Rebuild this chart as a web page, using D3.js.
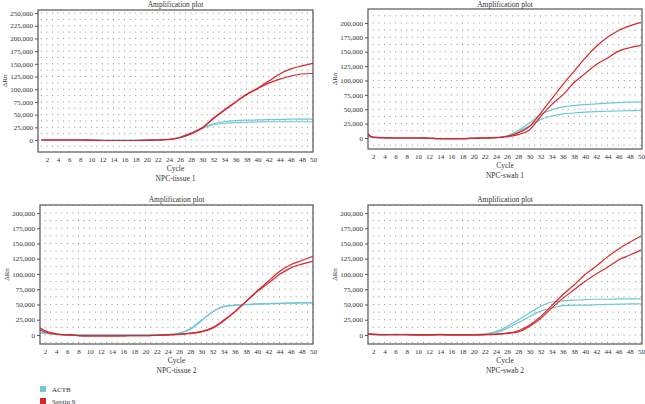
<!DOCTYPE html>
<html><head><meta charset="utf-8">
<script src="https://cdn.jsdelivr.net/npm/d3@7"></script>
<style>
body{margin:0;background:#fff;}
text{font-family:"Liberation Serif","DejaVu Serif",serif;fill:#333;}
</style></head>
<body><svg id="c" width="645" height="404"></svg>
<script>
const cycles = [1,2,4,6,8,10,12,14,16,18,20,22,24,26,28,30,32,34,36,38,40,42,44,46,48,50];
const xTicks = d3.range(2,51,2);
const seriesNames = ["ACTB","Septin 9"];
const panelTitles = ["NPC-tissue 1","NPC-swab 1","NPC-tissue 2","NPC-swab 2"];

// NPC-tissue 1
const t1_actbA = [0,0,0,0,0,0,-500,-500,-500,-500,0,500,1500,6000,14000,24000,32000,36000,38000,39000,39500,40000,40500,41000,41000,41000];
const t1_actbB = [0,0,0,0,0,0,-500,-500,-500,-500,0,500,1500,5500,13000,23000,30000,33000,34000,35000,35500,36000,36000,36000,36000,36000];
const t1_sepA  = [0,0,0,0,0,-500,-1000,-1000,-1000,-1000,-500,0,1000,5000,13000,24000,43000,59000,75000,90000,102000,116000,130000,140000,146000,151000];
const t1_sepB  = [0,0,0,0,0,-500,-1000,-1000,-1000,-1000,-500,0,1000,4500,12000,23000,42000,58000,74000,89000,101000,112000,120000,126000,130000,131000];
// NPC-swab 1
const s1_actbA = [3000,1000,500,0,0,0,-500,-1000,-1000,-1000,-500,0,1000,4000,13000,26000,41000,49000,54000,56500,58000,59500,60500,61500,62500,63000];
const s1_actbB = [3000,1000,500,0,0,0,-500,-1000,-1000,-1000,-500,0,1000,3500,11000,21000,32000,38000,42000,43500,45000,46000,46500,47000,47500,48000];
const s1_sepA  = [8000,1000,500,0,0,0,-500,-1000,-1000,-1000,-500,0,500,3000,9000,20000,43000,68000,93000,116000,139000,159000,175000,187000,195000,201000];
const s1_sepB  = [6000,1000,500,0,0,0,-500,-1000,-1000,-1000,-500,0,500,2500,6000,14000,37000,58000,75000,96000,112000,128000,139000,151000,157000,161000];
// NPC-tissue 2
const t2_actbA = [5000,3000,1000,0,0,0,0,0,0,0,0,0,500,3000,10000,24000,38000,47000,49000,50000,51000,51500,52000,52500,53000,53000];
const t2_actbB = [4000,2500,800,0,0,0,0,0,0,0,0,0,500,2500,9000,23000,37500,46500,48500,49500,50500,51000,51500,52000,52500,52500];
const t2_sepA  = [12000,7000,2000,0,-1000,-1500,-1500,-1500,-1500,-1000,-1000,-500,0,1000,3000,5500,12000,24000,38000,55000,72000,88000,104000,115000,122000,129000];
const t2_sepB  = [9000,5000,1500,0,-1000,-1500,-1500,-1500,-1500,-1000,-1000,-500,0,1000,2500,5000,11000,23000,38000,55000,71000,85000,99000,110000,116000,120500];
// NPC-swab 2
const s2_actbA = [1000,500,0,0,0,0,0,0,0,0,500,2000,5500,14000,25000,36000,47000,54000,56000,57000,58000,58500,58500,59000,59000,59000];
const s2_actbB = [1000,500,0,0,0,0,0,0,0,0,500,1500,4000,11000,20000,30000,39000,44000,48000,49000,49000,49500,50000,50500,51000,51000];
const s2_sepA  = [2000,1500,500,1000,500,0,0,1000,0,0,0,500,1500,3000,7000,16000,30000,48000,66000,82000,99000,113000,128000,141000,152000,162000];
const s2_sepB  = [2000,1000,500,500,1000,0,0,500,0,0,0,500,1000,2500,5000,14000,27000,44000,60000,74000,88000,100000,111000,123000,131000,139000];

const yTicks1 = d3.range(0,250001,25000);
const yTicks2 = d3.range(0,200001,25000);

const colors = {ACTB:"#70c7d4", "Septin 9":"#d8262c"};

const panels = [
 {title:panelTitles[0], box:[38,10,313,152], xd:[0.376,50], yd:[-23600,256000], ticks:yTicks1,
  actb:[t1_actbA,t1_actbB], sep:[t1_sepA,t1_sepB]},
 {title:panelTitles[1], box:[368,9,642,149], xd:[1.05,50.2], yd:[-19100,224300], ticks:yTicks2,
  actb:[s1_actbA,s1_actbB], sep:[s1_sepA,s1_sepB]},
 {title:panelTitles[2], box:[40,205,313,344], xd:[1.1,50], yd:[-14800,213000], ticks:yTicks2,
  actb:[t2_actbA,t2_actbB], sep:[t2_sepA,t2_sepB]},
 {title:panelTitles[3], box:[368,205,642,344], xd:[1.05,50.2], yd:[-14800,213000], ticks:yTicks2,
  actb:[s2_actbA,s2_actbB], sep:[s2_sepA,s2_sepB]}
];

const svg = d3.select("#c");
const fmt = d3.format(",");

panels.forEach(p=>{
  const [x0,y0,x1,y1] = p.box;
  const x = d3.scaleLinear().domain(p.xd).range([x0,x1]);
  const y = d3.scaleLinear().domain(p.yd).range([y1,y0]);
  const g = svg.append("g");
  const clipId = "clip"+x0+"_"+y0;
  g.append("clipPath").attr("id",clipId).append("rect")
    .attr("x",x0).attr("y",y0).attr("width",x1-x0).attr("height",y1-y0);
  // dotted lattice grid
  const gx = d3.range(Math.ceil(p.xd[0]), Math.floor(p.xd[1])+1);
  const gy = d3.range(Math.ceil(p.yd[0]/12500)*12500, p.yd[1], 12500);
  const pts = [];
  gx.forEach(c=>gy.forEach(v=>pts.push([c,v])));
  g.append("g").selectAll("rect").data(pts).join("rect")
    .attr("x",d=>x(d[0])-0.5).attr("y",d=>y(d[1])-0.5)
    .attr("width",1).attr("height",1).attr("fill","#8f8f8f");
  // curves
  const line = d3.line().x((d,i)=>x(cycles[i])).y(d=>y(d)).curve(d3.curveMonotoneX);
  const cg = g.append("g").attr("clip-path","url(#"+clipId+")");
  p.actb.forEach(s=>cg.append("path").attr("d",line(s)).attr("fill","none")
    .attr("stroke",colors.ACTB).attr("stroke-width",1.2));
  p.sep.forEach(s=>cg.append("path").attr("d",line(s)).attr("fill","none")
    .attr("stroke",colors["Septin 9"]).attr("stroke-width",1.2));
  // frame
  g.append("rect").attr("x",x0).attr("y",y0).attr("width",x1-x0).attr("height",y1-y0)
    .attr("fill","none").attr("stroke","#555").attr("stroke-width",1.2);
  // y axis
  const ya = g.append("g").attr("transform",`translate(${x0},0)`)
    .call(d3.axisLeft(y).tickValues(p.ticks).tickFormat(fmt).tickSize(3).tickPadding(2));
  ya.select(".domain").remove();
  ya.selectAll("line").attr("stroke","#555");
  ya.selectAll("text").style("font-size","7px").style("font-family","Liberation Serif").attr("fill","#333");
  // x axis
  const xa = g.append("g").attr("transform",`translate(0,${y1})`)
    .call(d3.axisBottom(x).tickValues(xTicks).tickSize(0).tickPadding(5));
  xa.select(".domain").remove();
  xa.selectAll("text").style("font-size","7px").style("font-family","Liberation Serif").attr("fill","#333");
  const cx = (x0+x1)/2;
  g.append("text").attr("x",cx).attr("y",Math.max(y0-3.5,7)).attr("text-anchor","middle")
    .style("font-size","7.5px").text("Amplification plot");
  g.append("text").attr("x",cx).attr("y",y1+19).attr("text-anchor","middle")
    .style("font-size","7.5px").text("Cycle");
  g.append("text").attr("x",cx).attr("y",y1+29).attr("text-anchor","middle")
    .style("font-size","7.5px").text(p.title);
  g.append("text").attr("transform",`translate(${x0-31},${(y0+y1)/2}) rotate(-90)`)
    .attr("text-anchor","middle").style("font-size","7px").text("ΔRn");
});

// legend
const lg = svg.append("g");
seriesNames.forEach((n,i)=>{
  lg.append("rect").attr("x",40).attr("y",386+i*12).attr("width",6).attr("height",6).attr("fill",colors[n]);
  lg.append("text").attr("x",52).attr("y",391.5+i*12).style("font-size","7px").text(n);
});
</script></body></html>
